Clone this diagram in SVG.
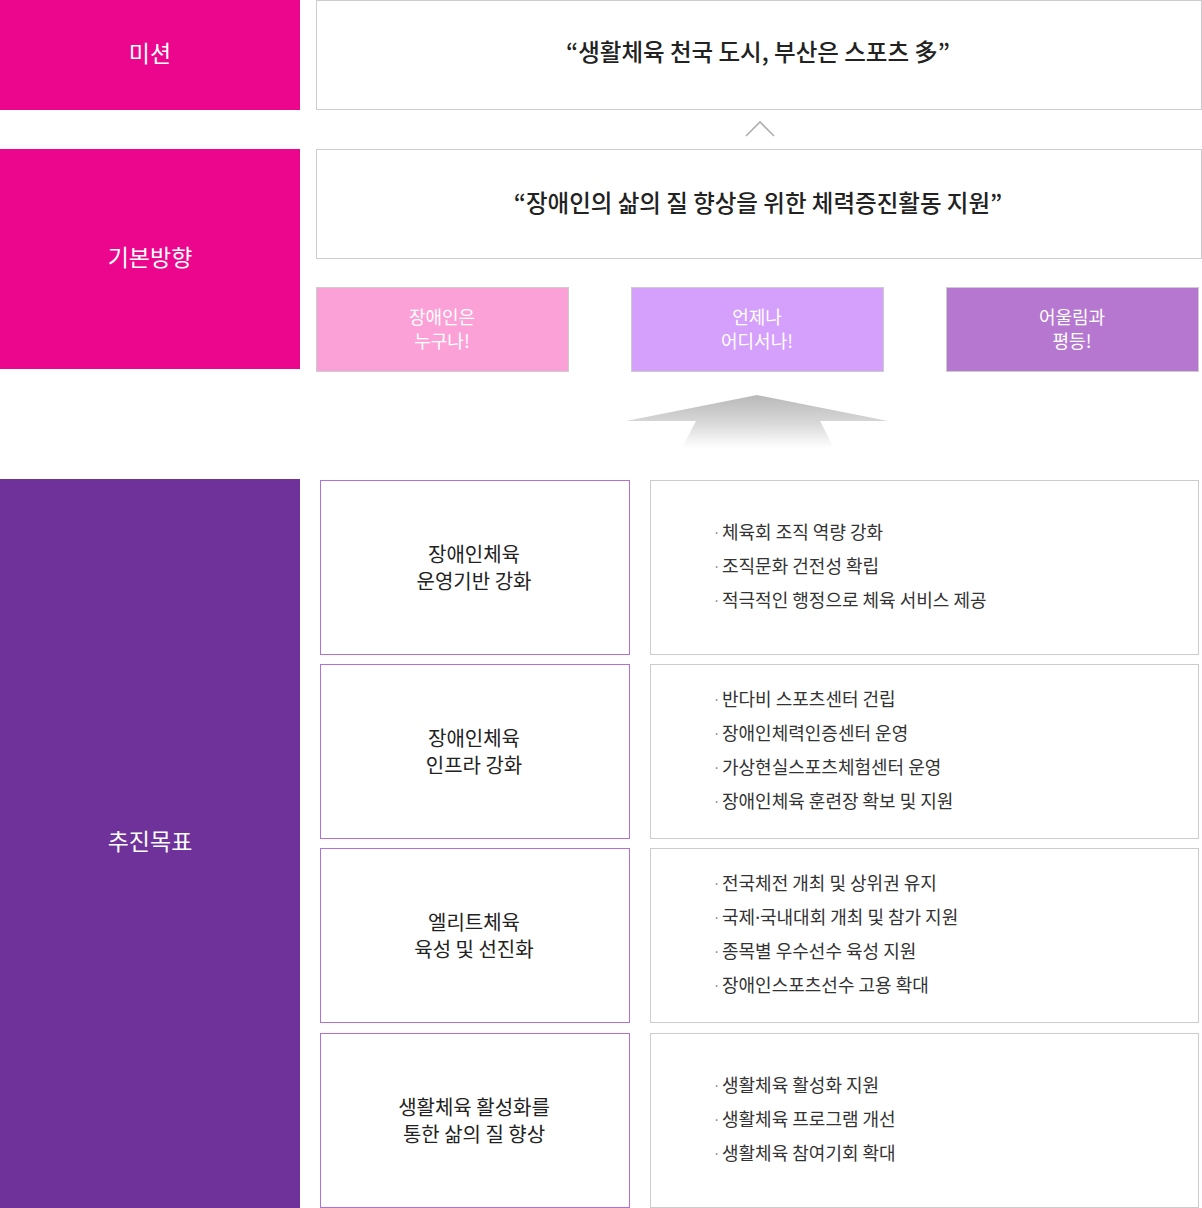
<svg xmlns="http://www.w3.org/2000/svg" width="1202" height="1208" viewBox="0 0 1202 1208">
<defs>
<style>
text{font-family:"Noto Sans CJK KR","Noto Sans",sans-serif;}
.lab{fill:#fff;font-size:23px;text-anchor:middle;}
.ttl{fill:#222;font-size:23.5px;font-weight:500;text-anchor:middle;}
.dir{fill:#fff;font-size:18px;text-anchor:middle;}
.goal{fill:#222;font-size:20px;text-anchor:middle;}
.li{fill:#333;font-size:18px;}
.dot{fill:#777;font-size:13px;}
.nd{font-family:"Noto Sans","DejaVu Sans",sans-serif;}
.wbox{fill:#fff;stroke:#cccccc;stroke-width:1;}
.gbox{fill:#fff;stroke:#b36fd6;stroke-width:1;}
.cbox{stroke:#cccccc;stroke-width:1;}
</style>
<linearGradient id="ag" x1="0" y1="0" x2="0" y2="1">
<stop offset="0" stop-color="#b9b9b9"/>
<stop offset="0.5" stop-color="#d6d6d6"/>
<stop offset="1" stop-color="#ffffff"/>
</linearGradient>
</defs>
<rect width="1202" height="1208" fill="#fff"/>

<g id="label-mission">
<rect x="0" y="0" width="300" height="110" fill="#ec068d"/>
<text class="lab" x="150" y="62">미션</text>
</g>
<g id="label-direction">
<rect x="0" y="149" width="300" height="220" fill="#ec068d"/>
<text class="lab" x="150" y="266">기본방향</text>
</g>
<g id="label-goals">
<rect x="0" y="479" width="300" height="729" fill="#6f329a"/>
<text class="lab" x="150" y="850">추진목표</text>
</g>

<g id="mission">
<rect class="wbox" x="316.5" y="0.5" width="885" height="109"/>
<text class="ttl" x="758" y="61">“생활체육 천국 도시, 부산은 스포츠 多”</text>
</g>
<g id="direction">
<rect class="wbox" x="316.5" y="149.5" width="885" height="109"/>
<text class="ttl" x="758" y="212">“장애인의 삶의 질 향상을 위한 체력증진활동 지원”</text>
</g>

<g id="dir1">
<rect class="cbox" x="316.5" y="287.5" width="252" height="84" fill="#fba1d7"/>
<text class="dir" x="442" y="324">장애인은</text>
<text class="dir" x="442" y="348">누구나!</text>
</g>
<g id="dir2">
<rect class="cbox" x="631.5" y="287.5" width="252" height="84" fill="#d5a0fc"/>
<text class="dir" x="757" y="324">언제나</text>
<text class="dir" x="757" y="348">어디서나!</text>
</g>
<g id="dir3">
<rect class="cbox" x="946.5" y="287.5" width="252" height="84" fill="#b677d0"/>
<text class="dir" x="1072" y="324">어울림과</text>
<text class="dir" x="1072" y="348">평등!</text>
</g>

<g id="connectors">
<polyline points="746,136 760,122 774,136" fill="none" stroke="#b0b0b0" stroke-width="1.6"/>
<polygon points="757,395 888,421 820,421 834,448 682,448 696,421 626,421" fill="url(#ag)"/>
</g>

<g id="goal1">
<rect class="gbox" x="320.5" y="480.5" width="309" height="174"/>
<text class="goal" x="474" y="562">장애인체육</text>
<text class="goal" x="474" y="589">운영기반 강화</text>
</g>
<g id="tasks1">
<rect class="wbox" x="650.5" y="480.5" width="548" height="174"/>
<text class="dot" x="713" y="538">·</text><text class="li" x="722" y="539">체육회 조직 역량 강화</text>
<text class="dot" x="713" y="572">·</text><text class="li" x="722" y="573">조직문화 건전성 확립</text>
<text class="dot" x="713" y="606">·</text><text class="li" x="722" y="607">적극적인 행정으로 체육 서비스 제공</text>
</g>

<g id="goal2">
<rect class="gbox" x="320.5" y="664.5" width="309" height="174"/>
<text class="goal" x="474" y="746">장애인체육</text>
<text class="goal" x="474" y="773">인프라 강화</text>
</g>
<g id="tasks2">
<rect class="wbox" x="650.5" y="664.5" width="548" height="174"/>
<text class="dot" x="713" y="705">·</text><text class="li" x="722" y="706">반다비 스포츠센터 건립</text>
<text class="dot" x="713" y="739">·</text><text class="li" x="722" y="740">장애인체력인증센터 운영</text>
<text class="dot" x="713" y="773">·</text><text class="li" x="722" y="774">가상현실스포츠체험센터 운영</text>
<text class="dot" x="713" y="807">·</text><text class="li" x="722" y="808">장애인체육 훈련장 확보 및 지원</text>
</g>

<g id="goal3">
<rect class="gbox" x="320.5" y="848.5" width="309" height="174"/>
<text class="goal" x="474" y="930">엘리트체육</text>
<text class="goal" x="474" y="957">육성 및 선진화</text>
</g>
<g id="tasks3">
<rect class="wbox" x="650.5" y="848.5" width="548" height="174"/>
<text class="dot" x="713" y="889">·</text><text class="li" x="722" y="890">전국체전 개최 및 상위권 유지</text>
<text class="dot" x="713" y="923">·</text><text class="li" x="722" y="924">국제<tspan class="nd">·</tspan>국내대회 개최 및 참가 지원</text>
<text class="dot" x="713" y="957">·</text><text class="li" x="722" y="958">종목별 우수선수 육성 지원</text>
<text class="dot" x="713" y="991">·</text><text class="li" x="722" y="992">장애인스포츠선수 고용 확대</text>
</g>

<g id="goal4">
<rect class="gbox" x="320.5" y="1033.5" width="309" height="174"/>
<text class="goal" x="474" y="1115">생활체육 활성화를</text>
<text class="goal" x="474" y="1142">통한 삶의 질 향상</text>
</g>
<g id="tasks4">
<rect class="wbox" x="650.5" y="1033.5" width="548" height="174"/>
<text class="dot" x="713" y="1091">·</text><text class="li" x="722" y="1092">생활체육 활성화 지원</text>
<text class="dot" x="713" y="1125">·</text><text class="li" x="722" y="1126">생활체육 프로그램 개선</text>
<text class="dot" x="713" y="1159">·</text><text class="li" x="722" y="1160">생활체육 참여기회 확대</text>
</g>
</svg>
